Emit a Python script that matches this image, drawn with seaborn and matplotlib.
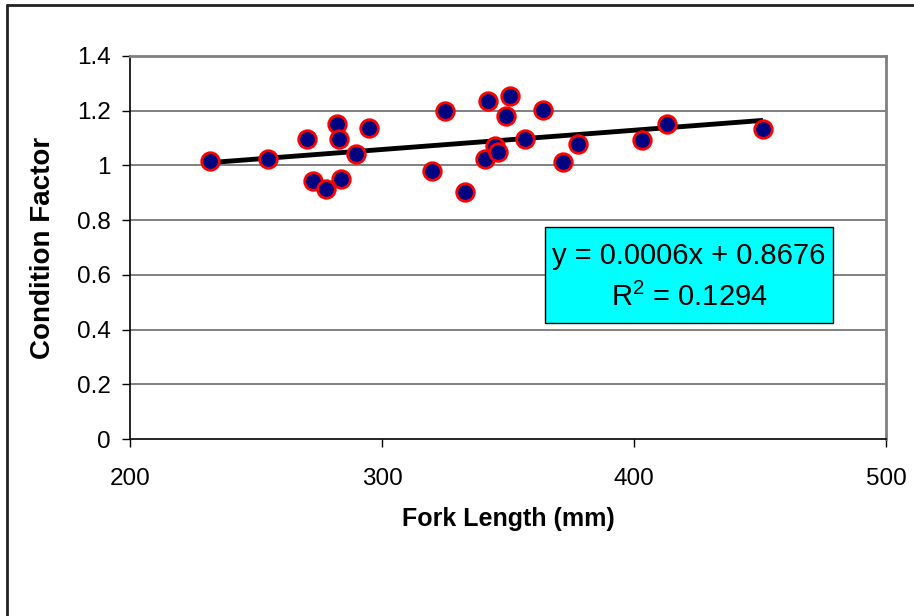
import numpy as np
import pandas as pd
import seaborn as sns
import matplotlib.pyplot as plt
from matplotlib.lines import Line2D
from matplotlib.patches import Rectangle

# fork length (mm) and condition factor
fork_length = [231.7, 254.8, 270.2, 272.6, 277.8, 282.1, 282.9, 283.7, 289.7, 294.8,
               319.8, 325.0, 332.9, 340.9, 342.1, 344.8, 346.0, 349.2, 350.8, 356.7,
               363.9, 371.8, 377.8, 403.2, 413.1, 451.2]
condition = [1.016, 1.023, 1.096, 0.943, 0.914, 1.151, 1.096, 0.950, 1.042, 1.137,
             0.980, 1.199, 0.903, 1.023, 1.235, 1.071, 1.050, 1.181, 1.254, 1.096,
             1.202, 1.012, 1.078, 1.093, 1.151, 1.133]
x_ticks = [200, 300, 400, 500]
y_ticks = [0, 0.2, 0.4, 0.6, 0.8, 1.0, 1.2, 1.4]
y_tick_labels = ['0', '0.2', '0.4', '0.6', '0.8', '1', '1.2', '1.4']

df = pd.DataFrame({'Fork Length (mm)': fork_length, 'Condition Factor': condition})

sns.set_style('white')
plt.rcParams['font.family'] = ['Liberation Sans', 'DejaVu Sans']
plt.rcParams['text.color'] = 'black'
plt.rcParams['axes.labelcolor'] = 'black'

fig = plt.figure(figsize=(9.14, 6.16), dpi=100)
ax = fig.add_axes([130 / 914, 1 - 439 / 616, (886 - 130) / 914, (439 - 56) / 616])

# gridlines
for yv in y_ticks[1:]:
    ax.axhline(yv, color='#808080', lw=1.4, zorder=0)

# linear trendline
sns.regplot(data=df, x='Fork Length (mm)', y='Condition Factor', ax=ax, ci=None,
            scatter=False, truncate=True,
            line_kws={'color': 'black', 'lw': 3.5, 'zorder': 2, 'solid_capstyle': 'butt'})

sns.scatterplot(data=df, x='Fork Length (mm)', y='Condition Factor', ax=ax,
                color='#000080', edgecolor='red', linewidth=2, s=160, zorder=3)

ax.set_xlim(200, 500)
ax.set_ylim(0, 1.4)
ax.set_xticks(x_ticks)
ax.set_yticks(y_ticks)
ax.set_yticklabels(y_tick_labels)
ax.tick_params(axis='both', labelsize=17.5, length=6, width=1, direction='out',
               colors='black', left=True, bottom=True)
ax.tick_params(axis='x', pad=15)
ax.tick_params(axis='y', pad=8)

ax.set_xlabel('Fork Length (mm)', fontsize=18, fontweight='bold', labelpad=12, color='black')
ax.set_ylabel('Condition Factor', fontsize=20, fontweight='bold', labelpad=15, color='black')

for side in ['left', 'bottom']:
    ax.spines[side].set_color('black')
    ax.spines[side].set_linewidth(1.2)
for side in ['top', 'right']:
    ax.spines[side].set_color('#808080')
    ax.spines[side].set_linewidth(2)

# equation box (axes-fraction layout)
bx0, bx1 = (545 - 130) / 756, (833 - 130) / 756
by0, by1 = (439 - 323) / 383, (439 - 227) / 383
ax.add_patch(Rectangle((bx0, by0), bx1 - bx0, by1 - by0, transform=ax.transAxes,
                       facecolor='cyan', edgecolor='black', lw=1, zorder=5))
bxc = (bx0 + bx1) / 2
ax.text(bxc, (439 - 256) / 383, 'y = 0.0006x + 0.8676', transform=ax.transAxes,
        fontsize=21, ha='center', va='center', zorder=6, color='black')
ax.text(bxc, (439 - 297) / 383, '$\\mathregular{R^2}$ = 0.1294', transform=ax.transAxes,
        fontsize=21, ha='center', va='center', zorder=6, color='black')

# outer chart frame (top and left edges visible)
fig.add_artist(Line2D([7 / 914, 7 / 914], [0, 1 - 5 / 616], color='#222222', lw=2,
                      transform=fig.transFigure))
fig.add_artist(Line2D([7 / 914, 1], [1 - 5 / 616, 1 - 5 / 616], color='#222222', lw=2,
                      transform=fig.transFigure))

fig.savefig('out.png', dpi=100)
